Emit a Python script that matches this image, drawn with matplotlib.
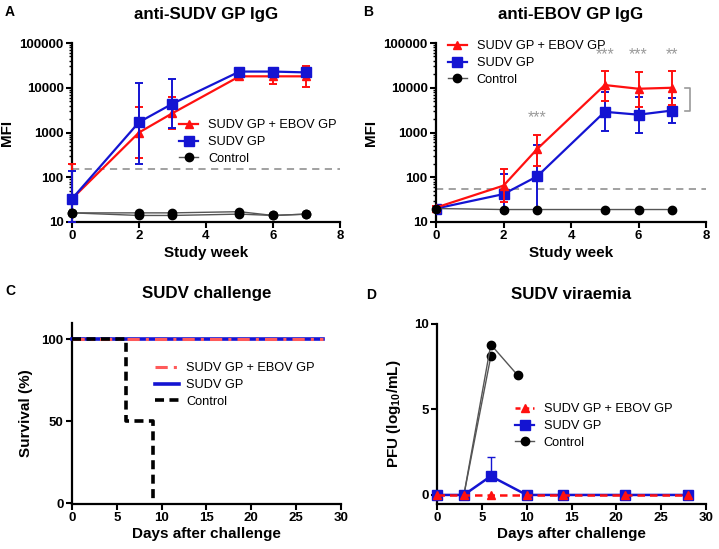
import matplotlib
matplotlib.use("Agg")
import matplotlib.pyplot as plt
import numpy as np
from matplotlib.lines import Line2D
from matplotlib.ticker import FixedLocator, LogLocator, NullFormatter, FuncFormatter

plt.rcParams['font.family'] = ['Liberation Sans', 'DejaVu Sans']
plt.rcParams['mathtext.default'] = 'bf'
plt.rcParams['mathtext.fontset'] = 'custom'
plt.rcParams['mathtext.bf'] = 'Liberation Sans:bold'

RED = '#ff1010'
BLUE = '#1414d2'
GRAY = '#555555'
REFGRAY = '#9a9a9a'

labels = ['SUDV GP + EBOV GP', 'SUDV GP', 'Control']

# --- A: anti-SUDV GP IgG ---
weeks = [0, 2, 3, 5, 6, 7]
a_combo = [33, 1000, 2700, 18000, 18000, 18000]
a_combo_lo = [10, 270, 1200, 15000, 12000, 10500]
a_combo_hi = [200, 3700, 6300, 21000, 26000, 30000]
a_sudv = [33, 1700, 4400, 23000, 23000, 22000]
a_sudv_lo = [10, 200, 1250, 20000, 20000, 19000]
a_sudv_hi = [140, 13000, 16000, 25000, 26000, 25000]
a_ctrl_1 = [16, 16, 16, 17, 14, 15]
a_ctrl_2 = [16, 14, 14, 15, 14, 15]
a_cutoff = 150

# --- B: anti-EBOV GP IgG ---
b_combo = [21, 65, 430, 11500, 9500, 10000]
b_combo_lo = [19, 28, 180, 5000, 3800, 4200]
b_combo_hi = [23, 150, 900, 24000, 23000, 24000]
b_sudv = [20, 42, 105, 2900, 2500, 3100]
b_sudv_lo = [19, 17, 20, 1100, 1000, 1600]
b_sudv_hi = [21, 120, 520, 8000, 6200, 5800]
b_ctrl = [20, 19, 19, 19, 19, 19]
b_cutoff = 55
star_weeks = [3, 5, 6, 7]
star_text = ['***', '***', '***', '**']
star_y = [2100, 56000, 56000, 56000]

# --- C: survival ---
surv_vacc_days = [0, 28]
surv_vacc = [100, 100]
surv_ctrl_days = [0, 6, 9]
surv_ctrl = [100, 50, 0]

# --- D: viraemia ---
vir_days = [0, 3, 6, 10, 14, 21, 28]
vir_combo = [0, 0, 0, 0, 0, 0, 0]
vir_sudv = [0, 0, 1.1, 0, 0, 0, 0]
vir_sudv_hi = [0, 0, 2.2, 0, 0, 0, 0]
vir_ctrl1_days = [0, 3, 6]
vir_ctrl1 = [0, 0, 8.1]
vir_ctrl2_days = [0, 3, 6, 9]
vir_ctrl2 = [0, 0, 8.8, 7.0]

W, H = 719, 549
fig = plt.figure(figsize=(W / 100, H / 100), dpi=100)


def box(l, r, t, b):
    return [l / W, 1 - b / H, (r - l) / W, (b - t) / H]


def style(ax):
    for s in ['top', 'right']:
        ax.spines[s].set_visible(False)
    for s in ['left', 'bottom']:
        ax.spines[s].set_linewidth(1.6)
    ax.tick_params(which='major', length=4, width=1.5, labelsize=9.5, pad=2)
    ax.tick_params(which='minor', length=2.5, width=1.0)
    for t in ax.get_xticklabels() + ax.get_yticklabels():
        t.set_fontweight('bold')


def err(v, lo, hi):
    v = np.array(v)
    return [v - np.array(lo), np.array(hi) - v]


def log_axis(ax):
    ax.set_yscale('log')
    ax.set_ylim(10, 100000)
    ax.set_xlim(0, 8)
    ax.set_xticks([0, 2, 4, 6, 8])
    ax.yaxis.set_major_locator(FixedLocator([10, 100, 1000, 10000, 100000]))
    ax.yaxis.set_major_formatter(FuncFormatter(lambda v, p: f'{int(round(v))}'))
    ax.yaxis.set_minor_locator(LogLocator(base=10, subs=np.arange(2, 10)))
    ax.yaxis.set_minor_formatter(NullFormatter())
    ax.set_xlabel('Study week', fontsize=11, fontweight='bold', labelpad=3)
    ax.set_ylabel('MFI', fontsize=11, fontweight='bold', labelpad=4)
    style(ax)


# legend proxies (line + marker only, as in the original)
h_combo = Line2D([], [], color=RED, marker='^', ms=6, lw=1.6)
h_sudv = Line2D([], [], color=BLUE, marker='s', ms=6.5, lw=1.6)
h_ctrl = Line2D([], [], color=GRAY, marker='o', ms=6, mfc='black', mec='black', lw=1.0)
h_combo_d = Line2D([], [], color=RED, marker='^', ms=6, lw=1.8, ls=(0, (2, 1.5)))


def leg(ax, handles, x, y, hl, htp=0.75):
    return ax.legend(handles, labels, loc='center left', bbox_to_anchor=(x, y),
                     frameon=False, fontsize=9.2, borderpad=0, borderaxespad=0,
                     handlelength=hl, handletextpad=htp, labelspacing=0.38)


# Panel A
axA = fig.add_axes(box(72, 340, 43, 222))
axA.axhline(a_cutoff, color=REFGRAY, ls=(0, (4, 3)), lw=1.3, zorder=1)
axA.errorbar(weeks, a_combo, yerr=err(a_combo, a_combo_lo, a_combo_hi), color=RED,
             marker='^', ms=6, lw=1.6, capsize=3, elinewidth=1.4, capthick=1.4,
             zorder=3, clip_on=False)
axA.errorbar(weeks, a_sudv, yerr=err(a_sudv, a_sudv_lo, a_sudv_hi), color=BLUE,
             marker='s', ms=6.5, lw=1.6, capsize=3, elinewidth=1.4, capthick=1.4,
             zorder=4, clip_on=False)
for ctrl in (a_ctrl_1, a_ctrl_2):
    axA.plot(weeks, ctrl, color=GRAY, lw=1.0, marker='o', ms=6, mfc='black',
             mec='black', zorder=5, clip_on=False)
log_axis(axA)
axA.set_title('anti-SUDV GP IgG', fontsize=12.2, fontweight='bold', pad=17)
leg(axA, [h_combo, h_sudv, h_ctrl], 0.40, 0.447, 1.5)

# Panel B
axB = fig.add_axes(box(436, 706, 43, 222))
axB.axhline(b_cutoff, color=REFGRAY, ls=(0, (4, 3)), lw=1.3, zorder=1)
axB.errorbar(weeks, b_combo, yerr=err(b_combo, b_combo_lo, b_combo_hi), color=RED,
             marker='^', ms=6, lw=1.6, capsize=3, elinewidth=1.4, capthick=1.4,
             zorder=4, clip_on=False)
axB.errorbar(weeks, b_sudv, yerr=err(b_sudv, b_sudv_lo, b_sudv_hi), color=BLUE,
             marker='s', ms=6.5, lw=1.6, capsize=3, elinewidth=1.4, capthick=1.4,
             zorder=3, clip_on=True)
axB.plot(weeks, b_ctrl, color=GRAY, lw=1.0, marker='o', ms=6, mfc='black',
         mec='black', zorder=5, clip_on=False)
for wk, s, yy in zip(star_weeks, star_text, star_y):
    axB.text(wk, yy, s, ha='center', va='center', color=REFGRAY, fontsize=11.5)
axB.plot([7.38, 7.53, 7.53, 7.38], [10000, 10000, 3100, 3100], color=REFGRAY, lw=1.2,
         clip_on=False)
log_axis(axB)
axB.set_title('anti-EBOV GP IgG', fontsize=12.2, fontweight='bold', pad=17)
leg(axB, [h_combo, h_sudv, h_ctrl], 0.044, 0.888, 1.5)

# Panel C
axC = fig.add_axes(box(72, 341, 323, 504))
l_blue, = axC.plot(surv_vacc_days, surv_vacc, color=BLUE, lw=2.6, zorder=3,
                   clip_on=False)
l_red, = axC.plot(surv_vacc_days, surv_vacc, color='#ff5a5a', lw=2.2,
                  ls=(0, (4, 2, 1, 2)), zorder=4, clip_on=False)
l_ctrl, = axC.plot(surv_ctrl_days, surv_ctrl, color='black', lw=2.6, ls=(0, (2.5, 1.5)),
                   drawstyle='steps-post', zorder=5, clip_on=False)
axC.set_xlim(0, 30)
axC.set_ylim(-0.6, 110)
axC.set_xticks([0, 5, 10, 15, 20, 25, 30])
axC.set_yticks([0, 50, 100])
axC.set_xlabel('Days after challenge', fontsize=11, fontweight='bold', labelpad=2)
axC.set_ylabel('Survival (%)', fontsize=11, fontweight='bold', labelpad=6)
axC.set_title('SUDV challenge', fontsize=12.2, fontweight='bold', pad=18)
style(axC)
leg(axC, [l_red, l_blue, l_ctrl], 0.309, 0.657, 1.9, 0.55)

# Panel D
axD = fig.add_axes(box(437, 706, 324, 504))
axD.plot(vir_ctrl1_days, vir_ctrl1, color=GRAY, lw=1.0, marker='o', ms=6, mfc='black',
         mec='black', zorder=5, clip_on=False)
axD.plot(vir_ctrl2_days, vir_ctrl2, color=GRAY, lw=1.0, marker='o', ms=6, mfc='black',
         mec='black', zorder=5, clip_on=False)
vs = np.array(vir_sudv)
axD.errorbar(vir_days, vir_sudv, yerr=[np.zeros_like(vs), np.array(vir_sudv_hi) - vs],
             color=BLUE, marker='s', ms=6.5, lw=1.8, capsize=3, elinewidth=1.0,
             capthick=1.0, zorder=6, clip_on=False)
axD.plot(vir_days, vir_combo, color=RED, marker='^', ms=6, lw=1.8, ls=(0, (3, 2)),
         zorder=7, clip_on=False)
axD.set_xlim(0, 30)
axD.set_ylim(-0.53, 10)
axD.set_xticks([0, 5, 10, 15, 20, 25, 30])
axD.set_yticks([0, 5, 10])
axD.set_xlabel('Days after challenge', fontsize=11, fontweight='bold', labelpad=2)
axD.set_ylabel(r'PFU (log$_{10}$/mL)', fontsize=11, fontweight='bold', labelpad=8)
axD.set_title('SUDV viraemia', fontsize=12.2, fontweight='bold', pad=18)
style(axD)
leg(axD, [h_combo_d, h_sudv, h_ctrl], 0.29, 0.433, 1.5)

# panel letters
for txt, x, y in [('A', 5, 12), ('B', 363, 12), ('C', 5, 291), ('D', 366, 295)]:
    fig.text(x / W, 1 - y / H, txt, fontsize=10, fontweight='bold', va='center', ha='left')

fig.savefig('out.png', dpi=100)
